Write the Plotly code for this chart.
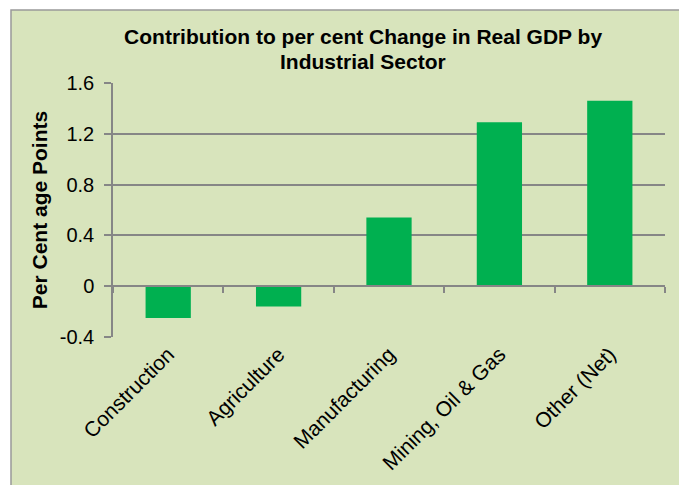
import plotly.graph_objects as go

# data
sectors = ["Construction", "Agriculture", "Manufacturing", "Mining, Oil & Gas", "Other (Net)"]
contribution = [-0.25, -0.16, 0.54, 1.29, 1.46]

ytick_vals = [-0.4, 0, 0.4, 0.8, 1.2, 1.6]
ytick_text = ["-0.4", "0", "0.4", "0.8", "1.2", "1.6"]

BAR_GREEN = "#00B050"
PANEL_BG = "#D8E4BC"
GRID = "#868686"
FONT = "Liberation Sans, Arial, sans-serif"

fig = go.Figure()

fig.add_trace(go.Bar(
    x=sectors, y=contribution,
    marker=dict(color=BAR_GREEN, line=dict(width=0)),
    width=0.41,
    showlegend=False,
    hoverinfo="x+y",
))

# invisible twin so the category axis can sit on the zero line
fig.add_trace(go.Scatter(
    x=sectors, y=contribution, xaxis="x2",
    mode="lines", line=dict(width=0),
    showlegend=False, hoverinfo="skip",
))

# chart area panel with grey frame
fig.add_shape(
    type="rect", xref="paper", yref="paper",
    x0=-0.1848, x1=1.0344, y0=-0.75, y1=1.287,
    fillcolor=PANEL_BG, line=dict(color="#999999", width=1.5),
    layer="below",
)

# second title line (Excel wraps it, tighter than a <br>)
fig.add_annotation(
    text="<b>Industrial Sector</b>",
    xref="paper", yref="paper", x=0.453, y=1.137,
    xanchor="center", yanchor="top", showarrow=False,
    font=dict(size=21, family=FONT, color="black"),
)

# page body has an 8px margin, so the figure is a little smaller than the window
fig.update_layout(
    width=679, height=477,
    paper_bgcolor="white",
    plot_bgcolor="rgba(0,0,0,0)",
    font=dict(family=FONT, color="black"),
    margin=dict(l=105, r=22, t=75, b=148),
    title=dict(
        text="<b>Contribution to per cent Change in Real GDP by</b>",
        x=0.523, xanchor="center", xref="container",
        y=0.955, yanchor="top", yref="container",
        font=dict(size=21, family=FONT, color="black"),
    ),
    xaxis=dict(
        type="category", range=[-0.5, 4.5],
        showline=False, showgrid=False, zeroline=False,
        ticks="", tickangle=-45,
        tickfont=dict(size=21, color="black"),
        automargin=False,
    ),
    xaxis2=dict(
        type="category", range=[-0.5, 4.5],
        overlaying="x", anchor="free", position=0.2, side="bottom",
        showline=True, linecolor=GRID, linewidth=1.5,
        ticks="outside", tickson="boundaries", ticklen=6,
        tickcolor=GRID, tickwidth=1.5,
        showticklabels=False, showgrid=False, zeroline=False,
    ),
    yaxis=dict(
        range=[-0.4, 1.6],
        tickvals=ytick_vals, ticktext=ytick_text,
        showgrid=True, gridcolor=GRID, gridwidth=1.5,
        zeroline=False,
        showline=True, linecolor=GRID, linewidth=1.5,
        ticks="outside", ticklen=7, tickcolor=GRID, tickwidth=1.5,
        ticklabelstandoff=6,
        tickfont=dict(size=20, color="black"),
        title=dict(text="<b>Per Cent age Points</b>", font=dict(size=21, color="black"), standoff=6),
        automargin=False,
    ),
)

fig.write_html("out.html")
